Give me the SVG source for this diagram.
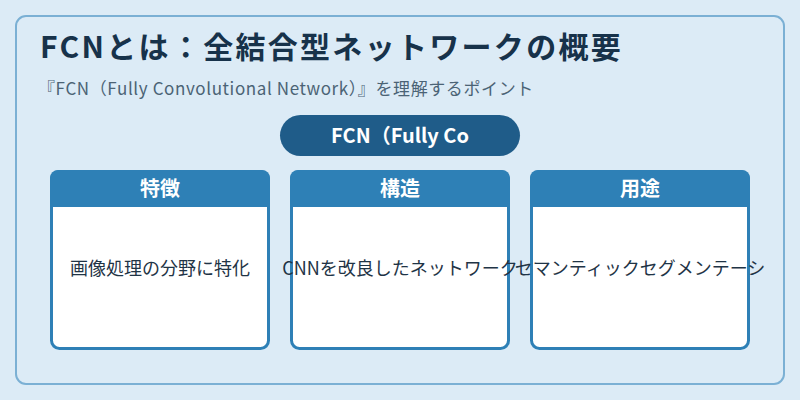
<svg xmlns="http://www.w3.org/2000/svg" width="800" height="400" viewBox="0 0 800 400">
<style>
.jp{font-family:"Noto Sans CJK JP","Noto Sans",sans-serif}
.title{font-size:30px;font-weight:700;fill:#17324a;letter-spacing:2.3px}
.sub{font-size:17px;fill:#4b6375;letter-spacing:0.6px}
.pill{fill:#1f5c89}
.pilltxt{font-size:20px;font-weight:700;fill:#ffffff}
.card{fill:#ffffff;stroke:#2e80b6;stroke-width:3}
.head{fill:#2e80b6}
.headtxt{font-size:20px;font-weight:700;fill:#ffffff}
.body{font-size:18px;fill:#1f3446}
</style>
<rect x="0" y="0" width="800" height="400" fill="#dcebf6"/>
<rect x="16" y="16" width="768" height="368" rx="10" fill="#dcebf6" stroke="#7bb0d4" stroke-width="2"/>
<text class="jp title" x="40" y="58">FCNとは：全結合型ネットワークの概要</text>
<text class="jp sub" x="38" y="95">『FCN（Fully Convolutional Network）』を理解するポイント</text>
<g id="node-main">
<rect class="pill" x="280" y="115" width="240" height="41" rx="20.5"/>
<text class="jp pilltxt" x="400" y="143" text-anchor="middle">FCN（Fully Co</text>
</g>
<g id="node-feature">
<rect class="card" x="51.5" y="171.5" width="217" height="177" rx="8"/>
<path class="head" d="M50 178 a8 8 0 0 1 8 -8 h204 a8 8 0 0 1 8 8 v29 h-220 z"/>
<text class="jp headtxt" x="160" y="196" text-anchor="middle">特徴</text>
<text class="jp body" x="160" y="275" text-anchor="middle">画像処理の分野に特化</text>
</g>
<g id="node-structure">
<rect class="card" x="291.5" y="171.5" width="217" height="177" rx="8"/>
<path class="head" d="M290 178 a8 8 0 0 1 8 -8 h204 a8 8 0 0 1 8 8 v29 h-220 z"/>
<text class="jp headtxt" x="400" y="196" text-anchor="middle">構造</text>
<text class="jp body" x="400" y="275" text-anchor="middle">CNNを改良したネットワーク</text>
</g>
<g id="node-usage">
<rect class="card" x="531.5" y="171.5" width="217" height="177" rx="8"/>
<path class="head" d="M530 178 a8 8 0 0 1 8 -8 h204 a8 8 0 0 1 8 8 v29 h-220 z"/>
<text class="jp headtxt" x="640" y="196" text-anchor="middle">用途</text>
<text class="jp body" x="640" y="275" text-anchor="middle">セマンティックセグメンテーシ</text>
</g>
<g id="connectors"></g>
</svg>
